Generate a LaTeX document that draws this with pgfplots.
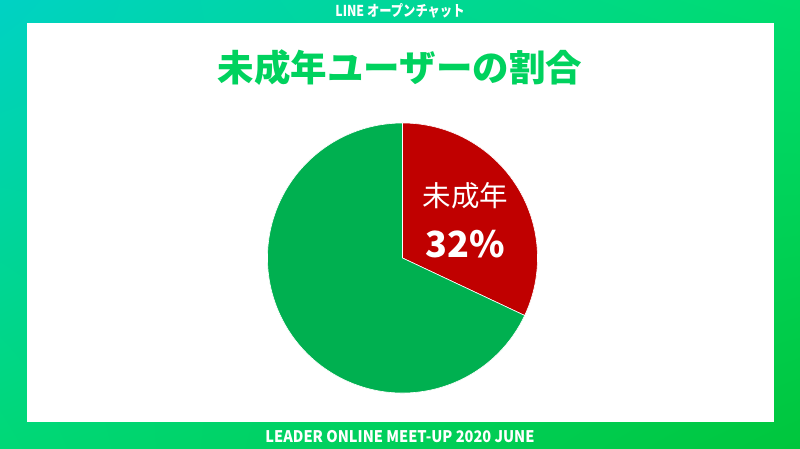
\documentclass[border=0pt]{standalone}
\usepackage{pgfplots}
\pgfplotsset{compat=1.18}
\usepackage{pgfplotstable}
\usetikzlibrary{shadings}
\usepackage{fontspec}
\setmainfont{Noto Sans CJK JP}
\newfontfamily\cjk{Noto Sans CJK JP}
\definecolor{bgTL}{HTML}{00D2C4}
\definecolor{bgTR}{HTML}{00DC6E}
\definecolor{bgBL}{HTML}{00D876}
\definecolor{bgBR}{HTML}{00C63C}
\definecolor{titleGreen}{HTML}{00D25E}
\definecolor{pieRed}{HTML}{C00000}
\definecolor{pieGreen}{HTML}{00B050}
\pgfplotstableread{
label value
minor 32
other 68
}\piedata
\pgfplotstablegetelem{0}{value}\of\piedata
\pgfmathsetmacro{\redval}{\pgfplotsretval}
\pgfmathtruncatemacro{\redint}{\redval}
\pgfmathsetmacro{\redend}{90-\redval*3.6}
\pgfmathsetmacro{\rx}{cos(\redend)}
\pgfmathsetmacro{\ry}{sin(\redend)}
\begin{document}%
\begin{tikzpicture}[x=1pt,y=1pt]
\useasboundingbox (0,0) rectangle (800,449);
\shade[upper left=bgTL, upper right=bgTR, lower left=bgBL, lower right=bgBR] (0,0) rectangle (800,449);
\fill[white] (27,27) rectangle (774,426);
\node[text=white, font=\cjk\bfseries\fontsize{15}{15}\selectfont] at (400,438) {\scalebox{0.82}[1]{LINE オープンチャット}};
\node[text=white, font=\cjk\bfseries\fontsize{16}{16}\selectfont] at (400,12) {\scalebox{0.91}[1]{LEADER ONLINE MEET-UP 2020 JUNE}};
\node[text=titleGreen, font=\cjk\bfseries\fontsize{36.5}{36.5}\selectfont] at (400,381) {未成年ユーザーの割合};
\begin{axis}[
  at={(402.5pt,191pt)}, anchor=center,
  scale only axis, width=270pt, height=270pt,
  xmin=-1, xmax=1, ymin=-1, ymax=1,
  hide axis, clip=false,
]
\addplot[draw=none] coordinates {(-1,-1) (1,1)};
\fill[pieRed, draw=white, line width=0.6pt] (axis cs:0,0) -- (axis cs:0,1) arc[start angle=90, end angle=\redend, radius=135pt] -- cycle;
\fill[pieGreen, draw=white, line width=0.6pt] (axis cs:0,0) -- (axis cs:\rx,\ry) arc[start angle=\redend, end angle=-270, radius=135pt] -- cycle;
\node[text=white, font=\cjk\fontsize{28.5}{28.5}\selectfont] at (axis cs:0.465,0.465) {未成年};
\node[text=white, font=\cjk\bfseries\fontsize{36}{36}\selectfont] at (axis cs:0.465,0.1) {\redint\%};
\end{axis}
\end{tikzpicture}%
\end{document}
